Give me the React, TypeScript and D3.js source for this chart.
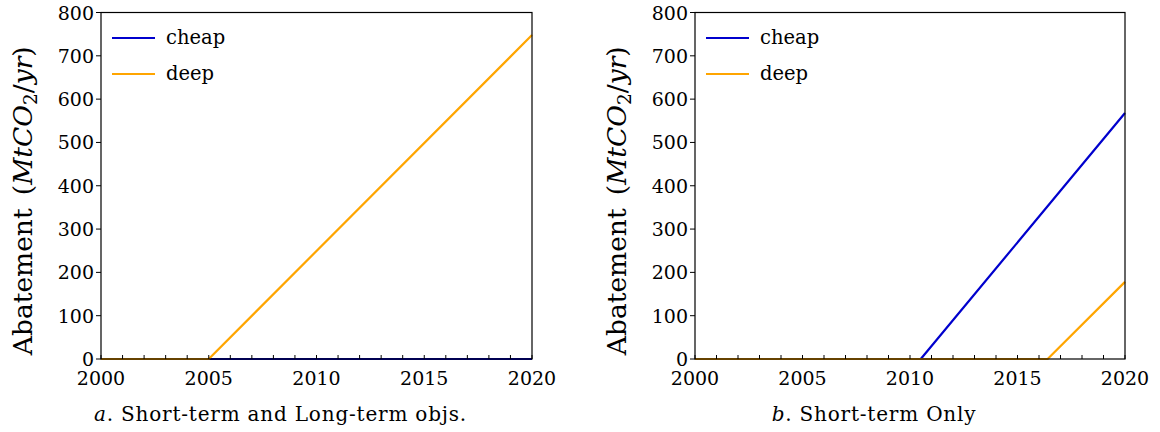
import * as d3 from "d3";
import { useEffect, useRef } from "react";

// breakpoints of each series (year, MtCO2/yr)
const aCheapYears = [2000, 2020];
const aCheapValues = [0, 0];
const aDeepYears = [2000, 2005, 2020];
const aDeepValues = [0, 0, 748];

const bCheapYears = [2000, 2010.5, 2020];
const bCheapValues = [0, 0, 568];
const bDeepYears = [2000, 2016.4, 2020];
const bDeepValues = [0, 0, 178];

const yTicks = [0, 100, 200, 300, 400, 500, 600, 700, 800];
const xMajor = [2000, 2005, 2010, 2015, 2020];
const xMinor = [
  2001, 2002, 2003, 2004, 2006, 2007, 2008, 2009, 2011, 2012, 2013, 2014,
  2016, 2017, 2018, 2019,
];

const seriesNames = ["cheap", "deep"];
const seriesColors = ["#0000cd", "#ffa500"];

interface Panel {
  left: number;
  right: number;
  letter: string;
  caption: string;
  cheap: [number[], number[]];
  deep: [number[], number[]];
}

const panels: Panel[] = [
  {
    left: 101,
    right: 532,
    letter: "a",
    caption: " Short-term and Long-term objs.",
    cheap: [aCheapYears, aCheapValues],
    deep: [aDeepYears, aDeepValues],
  },
  {
    left: 695,
    right: 1125,
    letter: "b",
    caption: " Short-term Only",
    cheap: [bCheapYears, bCheapValues],
    deep: [bDeepYears, bDeepValues],
  },
];

const FONT = "DejaVu Serif, Liberation Serif, Times New Roman, serif";

function App() {
  const ref = useRef<SVGSVGElement>(null);

  useEffect(() => {
    document.body.style.margin = "0";
    const svg = d3.select(ref.current);
    svg.selectAll("*").remove();

    const top = 12.5;
    const bottom = 359;

    panels.forEach((p) => {
      const x = d3.scaleLinear().domain([2000, 2020]).range([p.left, p.right]);
      const y = d3.scaleLinear().domain([0, 800]).range([bottom, top]);
      const g = svg.append("g").attr("font-family", FONT);

      // lines (cheap under deep)
      const line = d3
        .line<[number, number]>()
        .x((d) => x(d[0]))
        .y((d) => y(d[1]));
      [p.cheap, p.deep].forEach((s, i) => {
        const pts = s[0].map((yr, k) => [yr, s[1][k]] as [number, number]);
        g.append("path")
          .attr("d", line(pts))
          .attr("fill", "none")
          .attr("stroke", seriesColors[i])
          .attr("stroke-width", 2.2)
          .attr("stroke-linejoin", "round");
      });

      // frame
      g.append("rect")
        .attr("x", p.left)
        .attr("y", top)
        .attr("width", p.right - p.left)
        .attr("height", bottom - top)
        .attr("fill", "none")
        .attr("stroke", "#000")
        .attr("stroke-width", 1.2);

      // y ticks (outward)
      g.selectAll(".yt")
        .data(yTicks)
        .join("line")
        .attr("x1", p.left - 5)
        .attr("x2", p.left)
        .attr("y1", (d) => y(d))
        .attr("y2", (d) => y(d))
        .attr("stroke", "#000")
        .attr("stroke-width", 1);
      g.selectAll(".yl")
        .data(yTicks)
        .join("text")
        .attr("x", p.left - 7)
        .attr("y", (d) => y(d) + 7)
        .attr("text-anchor", "end")
        .attr("font-size", 19)
        .text((d) => d);

      // x ticks (inward)
      g.selectAll(".xt")
        .data([...xMajor, ...xMinor])
        .join("line")
        .attr("x1", (d) => x(d))
        .attr("x2", (d) => x(d))
        .attr("y1", bottom)
        .attr("y2", bottom - 4)
        .attr("stroke", "#000")
        .attr("stroke-width", 1);
      g.selectAll(".xl")
        .data(xMajor)
        .join("text")
        .attr("x", (d) => x(d))
        .attr("y", 385)
        .attr("text-anchor", "middle")
        .attr("font-size", 19)
        .text((d) => d);

      // y label
      const yl = g
        .append("text")
        .attr(
          "transform",
          `translate(${p.left - 69},${(top + bottom) / 2 + 15}) rotate(-90)`
        )
        .attr("text-anchor", "middle")
        .attr("font-size", 26.5);
      yl.append("tspan").text("Abatement\u2002(");
      yl.append("tspan").attr("font-style", "italic").text("MtCO");
      yl.append("tspan").attr("dy", 5).attr("font-size", 18.5).text("2");
      yl.append("tspan").attr("dy", -5).text("/");
      yl.append("tspan").attr("font-style", "italic").text("yr");
      yl.append("tspan").text(")");

      // caption
      const cap = g
        .append("text")
        .attr("x", (p.left + p.right) / 2 - 36)
        .attr("y", 421)
        .attr("text-anchor", "middle")
        .attr("font-size", 20)
        .attr("letter-spacing", 0.8);
      cap.append("tspan").attr("font-style", "italic").text(p.letter);
      cap.append("tspan").text("." + p.caption);

      // legend
      seriesNames.forEach((name, i) => {
        const ly = 38 + i * 36;
        g.append("line")
          .attr("x1", p.left + 11)
          .attr("x2", p.left + 54)
          .attr("y1", ly)
          .attr("y2", ly)
          .attr("stroke", seriesColors[i])
          .attr("stroke-width", 2.2);
        g.append("text")
          .attr("x", p.left + 65)
          .attr("y", ly + 6)
          .attr("font-size", 19.5)
          .text(name);
      });
    });
  }, []);

  return (
    <div>
      <svg ref={ref} width={1160} height={432} style={{ display: "block", background: "#fff" }}></svg>
    </div>
  );
}

export default App;
